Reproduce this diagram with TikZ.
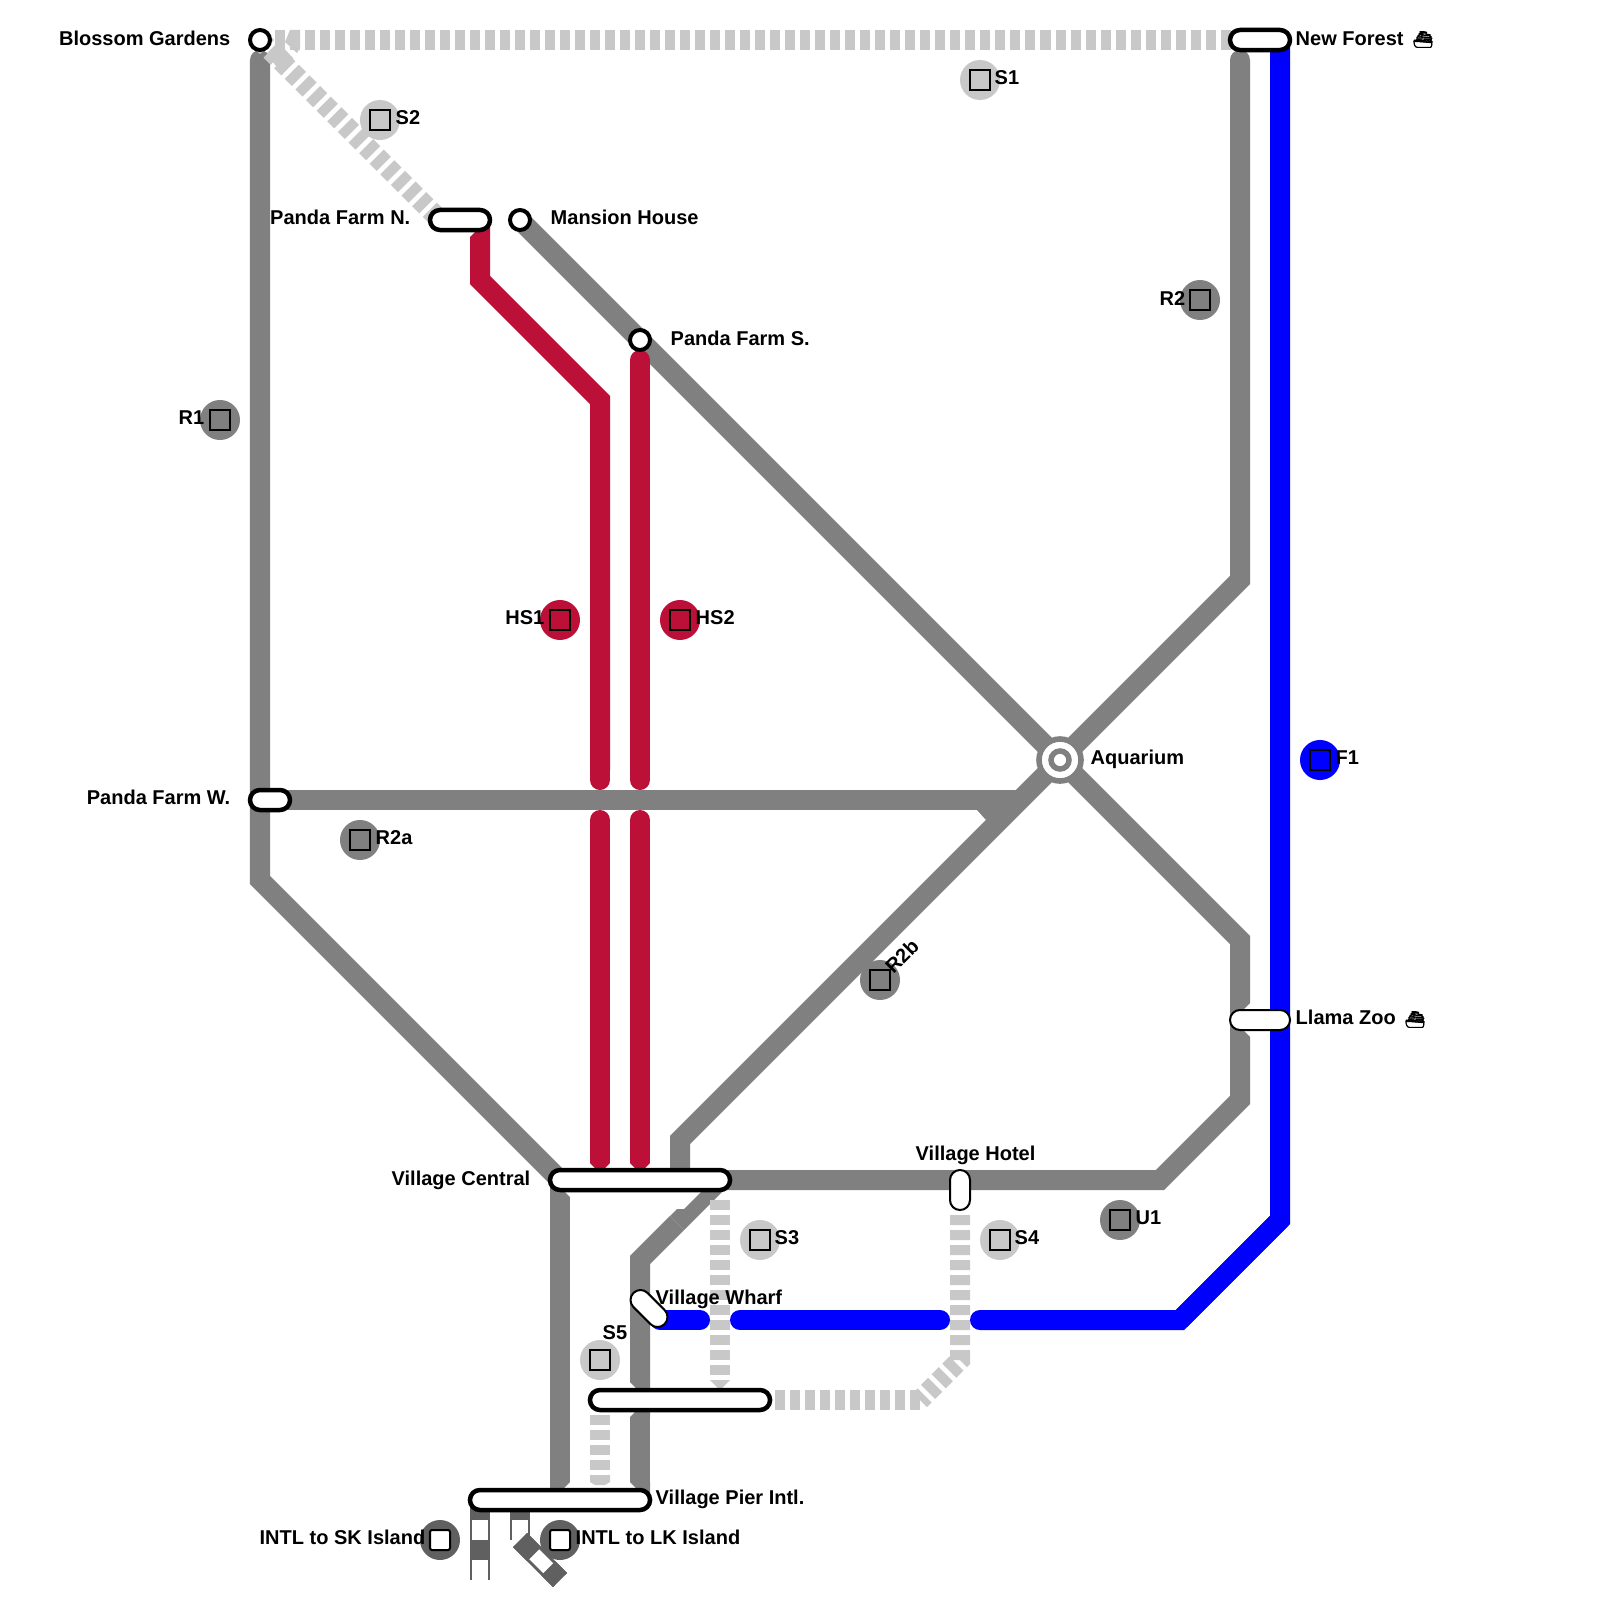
\documentclass[tikz,border=0pt]{standalone}
\usepackage{fontspec}
\setmainfont{Liberation Sans}
\newfontfamily\shipfont[FakeBold=3]{Noto Emoji}
\usepackage{xcolor}
\usetikzlibrary{backgrounds}
\definecolor{trackgray}{HTML}{808080}
\definecolor{spurgray}{HTML}{C8C8C8}
\definecolor{hsred}{HTML}{BC1038}
\definecolor{intlgray}{HTML}{606060}

\begin{document}
\begin{tikzpicture}[
  x=0.01cm, y=-0.01cm,
  font=\fontsize{5.69}{7}\selectfont\bfseries,
  lbl/.style={inner sep=0pt, anchor=base west},
  lblr/.style={inner sep=0pt, anchor=base east},
  shiplbl/.style={lbl, font=\fontsize{4.6}{6}\selectfont\shipfont},
  halt/.style={draw, fill=white, circle, line width=0.04cm, minimum size=0.2cm, inner sep=0pt},
  pill/.style={draw, fill=white, rounded corners=0.1cm, line join=round, line width=0.045cm, minimum height=0.2cm, inner sep=0pt},
  thinpill/.style={pill, line width=0.02cm},
  mkr/.style={circle, minimum size=0.4cm, inner sep=0pt},
  mksq/.style={draw, line width=0.02cm, minimum size=0.2cm, inner sep=0pt},
  track/.style={line width=0.2cm, line join=miter},
  rail/.style={track, trackgray},
  spur/.style={track, spurgray, dash pattern=on 0.1cm off 0.05cm},
  hs/.style={track, hsred, line cap=round},
  ferry/.style={track, blue, line cap=round},
  intl/.style={track, intlgray, dash pattern=on 0.2cm off 0.2cm},
]
\useasboundingbox (0,0) rectangle (1600,1600);

% stations
\node[halt] (blossom) at (260,40) {};
\node[halt] (mansion) at (520,220) {};
\node[halt] (pandas) at (640,340) {};
\node[pill, minimum width=0.6cm] (forest) at (1260,40) {};
\node[pill, minimum width=0.6cm] (pandan) at (460,220) {};
\node[pill, minimum width=0.4cm] (pandaw) at (270,800) {};
\node[pill, minimum width=1.8cm] (vcentral) at (640,1180) {};
\node[pill, minimum width=1.8cm] (vlower) at (680,1400) {};
\node[pill, minimum width=1.8cm] (vpier) at (560,1500) {};
\node[thinpill, minimum width=0.6cm] (llama) at (1260,1020) {};
\node[thinpill, minimum width=0.2cm, minimum height=0.4cm] (vhotel) at (960,1190) {};
\node[thinpill, minimum width=0.44cm, rotate=-45] (vwharf) at (649,1308.5) {};
\node[circle, draw=trackgray, fill=white, line width=0.056cm, minimum size=0.42cm, inner sep=0pt] (aquarium) at (1060,760) {};
\node[circle, draw=trackgray, fill=white, line width=0.055cm, minimum size=0.18cm, inner sep=0pt] (aquacore) at (1060,760) {};
\coordinate (pandanw) at (440,220);
\coordinate (forestb) at (1280,40);
\coordinate (wharfb) at (660,1320);

% markers
\foreach \mname/\mx/\my/\mcol in {ms1/980/80/spurgray, ms2/380/120/spurgray, ms3/760/1240/spurgray,
    ms4/1000/1240/spurgray, ms5/600/1360/spurgray, mr1/220/420/trackgray, mr2/1200/300/trackgray,
    mra/360/840/trackgray, mrb/880/980/trackgray, mu1/1120/1220/trackgray,
    mh1/560/620/hsred, mh2/680/620/hsred, mf1/1320/760/blue} {
  \node[mkr, fill=\mcol] (\mname) at (\mx,\my) {};
  \node[mksq, fill=\mcol] (\mname q) at (\mx,\my) {};
}
\node[mkr, fill=intlgray] (intls) at (440,1540) {};
\node[mksq, fill=white, rounded corners=0.02cm] (intlsq) at (440,1540) {};
\node[mkr, fill=intlgray] (intll) at (560,1540) {};
\node[mksq, fill=white, rounded corners=0.02cm] (intllq) at (560,1540) {};

% labels
\node[lblr] (tblossom) at (231,46) {Blossom Gardens};
\node[lbl] (tforest) at (1295,46) {New Forest};
\node[shiplbl] (tforests) at (1412,45) {⛴};
\node[lbl] (ts1) at (994,85) {S1};
\node[lbl] (ts2) at (395,125) {S2};
\node[lblr] (tpandan) at (411,225) {Panda Farm N.};
\node[lbl] (tmansion) at (550,225) {Mansion House};
\node[lbl] (tpandas) at (670,345) {Panda Farm S.};
\node[lblr] (tr2) at (1186,305) {R2};
\node[lblr] (tr1) at (205,424) {R1};
\node[lblr] (th1) at (545,624) {HS1};
\node[lbl] (th2) at (695,624) {HS2};
\node[lbl] (taqua) at (1090,764) {Aquarium};
\node[lbl] (tf1) at (1335,764) {F1};
\node[lblr] (tpandaw) at (231,804) {Panda Farm W.};
\node[lbl] (tra) at (375,844) {R2a};
\node[lbl, rotate=45] (trb) at (893,975) {R2b};
\node[lbl] (tllama) at (1295,1024) {Llama Zoo};
\node[shiplbl] (tllamas) at (1404,1025) {⛴};
\node[lbl] (thotel) at (915,1160) {Village Hotel};
\node[lblr] (tcentral) at (531,1185) {Village Central};
\node[lbl] (ts3) at (774,1244) {S3};
\node[lbl] (ts4) at (1014,1244) {S4};
\node[lbl] (tu1) at (1135,1224) {U1};
\node[lbl] (twharf) at (655,1304) {Village Wharf};
\node[lbl] (ts5) at (602,1339) {S5};
\node[lbl] (tpier) at (655,1504) {Village Pier Intl.};
\node[lbl] (tintll) at (575,1544) {INTL to LK Island};
\node[lblr] (tintls) at (426,1544) {INTL to SK Island};

\begin{scope}[on background layer]
% gray lines
\draw[rail] (260,60) -- (260,880) -- (560,1180);
\draw[rail, line cap=round] (260,60) -- (260,200);
\draw[rail, line cap=round] (1240,60) -- (1240,200);
\draw[rail] (1240,60) -- (1240,580) -- (aquarium.center) -- (mansion.center);
\draw[rail] (pandaw.center) -- (1020,800);
\fill[trackgray] (977,810) -- (986,820) -- (1012,800) -- cycle;
\draw[rail] (aquarium.center) -- (1240,940) -- (1240,1003);
\fill[trackgray] (1230,1003) -- (1250,1003) -- (1230,1023) -- cycle;
\fill[trackgray] (1230,1037) -- (1250,1037) -- (1230,1017) -- cycle;
\draw[rail] (1240,1037) -- (1240,1100) -- (1160,1180) -- (vcentral.center);
\draw[rail] (aquarium.center) -- (680,1140) -- (680,1170);
\draw[rail] (677,1223) -- (640,1260) -- (640,1382);
\fill[trackgray] (670,1216) -- (677,1209) -- (684,1209) -- (701,1192) -- (722,1192) -- (684,1230) -- cycle;
\fill[trackgray] (630,1382) -- (650,1382) -- (650,1402) -- cycle;
\draw[rail] (640,1417) -- (640,1482);
\fill[trackgray] (630,1417) -- (650,1417) -- (650,1397) -- cycle;
\fill[trackgray] (630,1482) -- (650,1482) -- (650,1502) -- cycle;
\draw[rail] (560,1197) -- (560,1482);
\fill[trackgray] (550,1197) -- (570,1197) -- (550,1177) -- cycle;
\fill[trackgray] (550,1482) -- (570,1482) -- (550,1502) -- cycle;

% light gray lines
\draw[spur] (275,40) -- (forest.center);
\draw[spur] (blossom.center) -- (pandanw);
\fill[spurgray] (267,53) -- (278,42) -- (293,58) -- (282,75) -- cycle;
\fill[spurgray] (290,30) -- (300,30) -- (300,48) -- (297,53) -- (285,42) -- cycle;
\draw[spur] (720,1200) -- (720,1380);
\fill[spurgray] (710,1380) -- (720,1390) -- (730,1380) -- cycle;
\draw[spur] (960,1215) -- (960,1360) -- (920,1400);
\draw[spur] (775,1400) -- (920,1400);
\draw[spur] (600,1415) -- (600,1475);
\fill[spurgray] (590,1475) -- (610,1475) -- (610,1482) -- (605,1485) -- (595,1485) -- (590,1482) -- cycle;

% red lines
\draw[track, hsred] (480,237) -- (480,280) -- (600,400) -- (600,770);
\fill[hsred] (470,237) -- (490,237) -- (490,217) -- cycle;
\draw[hs] (600,760) -- (600,780);
\draw[hs] (640,360) -- (640,780);
\foreach \hx in {600,640} {
  \draw[track, hsred] (\hx,830) -- (\hx,1163);
  \draw[hs] (\hx,820) -- (\hx,840);
  \fill[hsred] (\hx-10,1163) -- (\hx,1173) -- (\hx+10,1163) -- cycle;
}

% blue lines
\draw[track, blue] (forestb) -- (1280,1220) -- (1180,1320);
\draw[ferry] (1280,1220) -- (1180,1320) -- (980,1320);
\draw[ferry] (940,1320) -- (740,1320);
\draw[ferry] (wharfb) -- (700,1320);

% intl tracks
\draw[track, intlgray] (480,1500) -- (480,1580);
\draw[line width=0.16cm, white] (480,1500) -- (480,1580);
\draw[intl] (480,1500) -- (480,1580);
\draw[track, intlgray] (520,1500) -- (520,1540);
\draw[line width=0.16cm, white] (520,1500) -- (520,1540);
\draw[intl] (520,1500) -- (520,1540);
\draw[track, intlgray] (520,1540) -- (560,1580);
\draw[line width=0.14cm, white] (520,1540) -- (560,1580);
\draw[intl] (520,1540) -- (560,1580);
\end{scope}
\end{tikzpicture}
\end{document}
